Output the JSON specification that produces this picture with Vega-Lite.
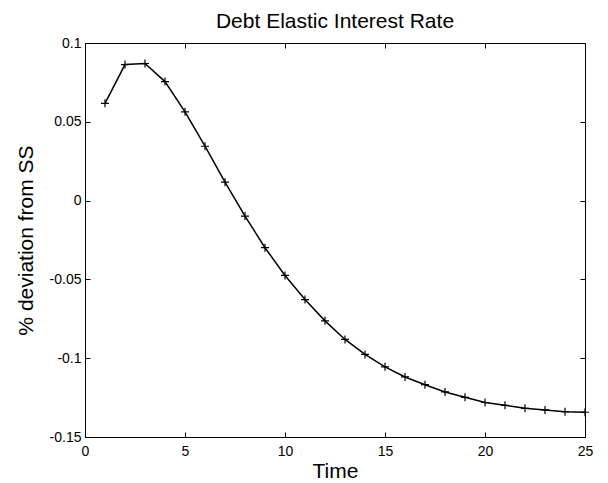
{
  "$schema": "https://vega.github.io/schema/vega-lite/v6.json",
  "width": 500,
  "height": 394,
  "autosize": {"type": "none"},
  "padding": {"left": 85, "top": 43, "right": 23, "bottom": 46},
  "background": "white",
  "title": {
    "text": "Debt Elastic Interest Rate",
    "font": "Liberation Sans",
    "fontSize": 21,
    "fontWeight": "normal",
    "color": "black",
    "frame": "group",
    "anchor": "middle",
    "baseline": "alphabetic",
    "offset": 14,
    "dy": 27
  },
  "data": {
    "values": [
      {"t": 1, "v": 0.0617},
      {"t": 2, "v": 0.0863},
      {"t": 3, "v": 0.0870},
      {"t": 4, "v": 0.0755},
      {"t": 5, "v": 0.0563},
      {"t": 6, "v": 0.0345},
      {"t": 7, "v": 0.0117},
      {"t": 8, "v": -0.0098},
      {"t": 9, "v": -0.0299},
      {"t": 10, "v": -0.0475},
      {"t": 11, "v": -0.0628},
      {"t": 12, "v": -0.0763},
      {"t": 13, "v": -0.0881},
      {"t": 14, "v": -0.0976},
      {"t": 15, "v": -0.1055},
      {"t": 16, "v": -0.1119},
      {"t": 17, "v": -0.1168},
      {"t": 18, "v": -0.1214},
      {"t": 19, "v": -0.1248},
      {"t": 20, "v": -0.1281},
      {"t": 21, "v": -0.1299},
      {"t": 22, "v": -0.1318},
      {"t": 23, "v": -0.1328},
      {"t": 24, "v": -0.1339},
      {"t": 25, "v": -0.1343}
    ]
  },
  "layer": [
    {
      "mark": {"type": "line", "color": "black", "strokeWidth": 1.5},
      "encoding": {
        "x": {
          "field": "t", "type": "quantitative",
          "scale": {"domain": [0, 25], "nice": false, "zero": false},
          "axis": {
            "orient": "bottom",
            "values": [0, 5, 10, 15, 20, 25],
            "title": "Time",
            "titleY": 40,
            "titleBaseline": "alphabetic",
            "labelPadding": 12,
            "labelBaseline": "top"
          }
        },
        "y": {
          "field": "v", "type": "quantitative",
          "scale": {"domain": [-0.15, 0.1], "nice": false, "zero": false},
          "axis": {
            "orient": "left",
            "values": [-0.15, -0.1, -0.05, 0, 0.05, 0.1],
            "labelExpr": "replace(format(datum.value, '.2~f'), '\u2212', '-')",
            "title": "% deviation from SS",
            "titleX": -52.5,
            "titleY": 197,
            "titleAngle": -90,
            "titleAlign": "center",
            "titleBaseline": "alphabetic",
            "labelPadding": 9
          }
        }
      }
    },
    {
      "mark": {
        "type": "point",
        "shape": "M-1,0L1,0M0,-1L0,1",
        "size": 64,
        "filled": false,
        "stroke": "black",
        "strokeWidth": 1.2,
        "opacity": 1
      },
      "encoding": {
        "x": {
          "field": "t", "type": "quantitative",
          "axis": {"orient": "top", "values": [0, 5, 10, 15, 20, 25], "labels": false, "title": null}
        },
        "y": {
          "field": "v", "type": "quantitative",
          "axis": {"orient": "right", "values": [-0.15, -0.1, -0.05, 0, 0.05, 0.1], "labels": false, "title": null}
        }
      }
    }
  ],
  "resolve": {"axis": {"x": "independent", "y": "independent"}},
  "config": {
    "view": {"stroke": "black", "strokeWidth": 1},
    "axis": {
      "grid": false,
      "domain": false,
      "ticks": true,
      "tickSize": -5,
      "tickColor": "black",
      "tickWidth": 1,
      "labelColor": "black",
      "labelFont": "Liberation Sans",
      "labelFontSize": 14,
      "labelOverlap": false,
      "labelFlush": false,
      "labelBound": false,
      "titleColor": "black",
      "titleFont": "Liberation Sans",
      "titleFontSize": 21,
      "titleFontWeight": "normal",
      "minExtent": 0
    }
  }
}
